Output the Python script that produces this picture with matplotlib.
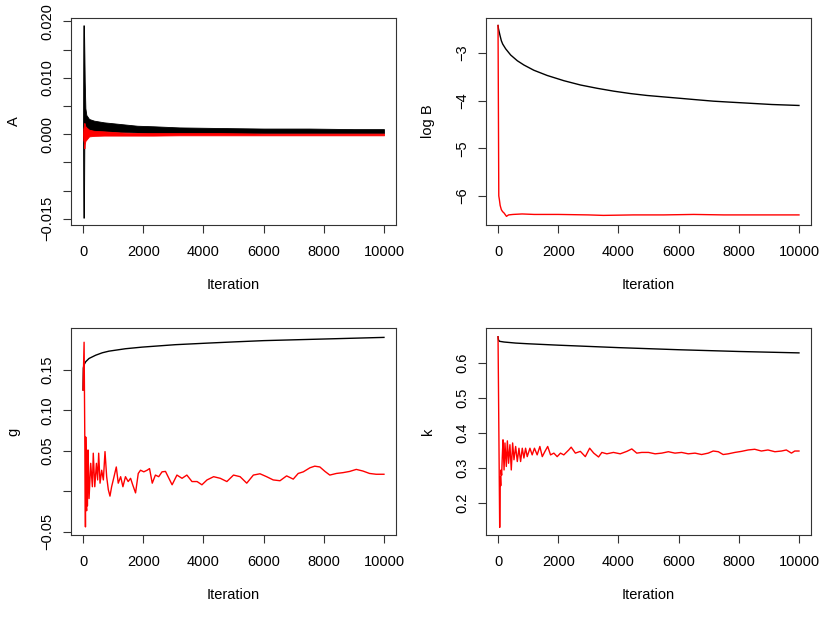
import numpy as np
import matplotlib
matplotlib.use('Agg')
import matplotlib.pyplot as plt

plt.rcParams['font.family'] = ['Liberation Sans', 'DejaVu Sans']

MINUS = '\u2212'

# ---- panel A: dense trace, read as upper / lower envelope ----
a_iter = [0, 10, 30, 45, 56, 78, 110, 200, 365, 700, 1250, 1800, 2350, 3200,
          4500, 6000, 7500, 9000, 10000]
a_black_hi = [0.0, 0.0193, 0.0193, 0.0140, 0.0094, 0.0046, 0.0034, 0.0027, 0.0024,
              0.0021, 0.0018, 0.0015, 0.0014, 0.0012, 0.0011, 0.0010, 0.0010,
              0.0009, 0.0009]
a_black_lo = [0.0, -0.0148, -0.0148, 0.0000, 0.0004, 0.0006, 0.0007, 0.0007, 0.0006,
              0.0005, 0.0004, 0.0003, 0.0002, 0.0002, 0.0002, 0.0002, 0.0002,
              0.0002, 0.0002]
a_red_hi = [0.0, 0.0010, 0.0015, 0.0020, 0.0018, 0.0014, 0.0012, 0.0008, 0.0006,
            0.0005, 0.0003, 0.0002, 0.0002, 0.0002, 0.0002, 0.0001, 0.0001,
            0.0001, 0.0001]
a_red_lo = [0.0, -0.0010, -0.0015, -0.0025, -0.0018, -0.0012, -0.0010, -0.0004,
            -0.0003, -0.00025, -0.00025, -0.00025, -0.00025, -0.0002, -0.0002,
            -0.0002, -0.0002, -0.0002, -0.0002]

# ---- panel log B ----
b_black_iter = [0, 15, 33, 66, 110, 155, 254, 420, 640, 860, 1190, 1635, 2190,
                2740, 3300, 3850, 4400, 4950, 5500, 6055, 6600, 7160, 7700, 8265,
                9100, 10000]
b_black = [-2.42, -2.49, -2.54, -2.63, -2.74, -2.81, -2.91, -3.04, -3.16, -3.25,
           -3.36, -3.47, -3.58, -3.67, -3.74, -3.80, -3.85, -3.89, -3.92, -3.95,
           -3.98, -4.01, -4.03, -4.05, -4.08, -4.10]
b_red_iter = [0, 25, 45, 70, 110, 150, 200, 280, 350, 500, 800, 1200, 2000, 3000,
              3500, 4500, 5500, 6500, 7500, 8500, 10000]
b_red = [-2.42, -6.00, -6.08, -6.20, -6.29, -6.33, -6.36, -6.43, -6.40, -6.39,
         -6.38, -6.39, -6.39, -6.40, -6.41, -6.40, -6.40, -6.39, -6.40, -6.40, -6.40]

# ---- panel g ----
g_black_iter = [0, 10, 30, 90, 200, 420, 640, 860, 1410, 1965, 3070, 4170, 5055,
                6000, 7000, 8000, 9000, 10000]
g_black = [0.125, 0.152, 0.156, 0.160, 0.164, 0.168, 0.171, 0.173, 0.176, 0.178,
           0.181, 0.183, 0.1845, 0.186, 0.187, 0.188, 0.189, 0.190]
g_red_iter = [0, 35, 80, 90, 100, 110, 120, 130, 145, 165, 180, 200, 255, 310, 340,
              390, 445, 485, 520, 565, 620, 675, 730, 785, 840, 895, 950, 1030,
              1105, 1170, 1250, 1325, 1410, 1500, 1580, 1650, 1745, 1835, 1910,
              2020, 2130, 2210, 2300, 2405, 2515, 2625, 2740, 2960, 3120, 3290,
              3450, 3620, 3790, 3950, 4120, 4340, 4560, 4780, 5000, 5220, 5440,
              5660, 5880, 6100, 6320, 6545, 6765, 6985, 7150, 7320, 7540, 7700,
              7870, 8040, 8200, 8420, 8640, 8860, 9080, 9300, 9520, 9740, 10000]
g_red = [0.125, 0.184, -0.044, 0.067, 0.040, -0.020, -0.024, 0.030, -0.018, 0.051,
         0.030, -0.009, 0.0345, 0.0056, 0.047, 0.0056, 0.0345, 0.014, 0.047, 0.010,
         0.026, 0.014, 0.049, 0.018, 0.002, -0.006, 0.0056, 0.018, 0.030, 0.010,
         0.018, 0.0056, 0.018, 0.012, 0.016, 0.008, -0.002, 0.022, 0.026,
         0.024, 0.026, 0.028, 0.010, 0.020, 0.018, 0.024, 0.0245, 0.008, 0.020,
         0.016, 0.020, 0.012, 0.012, 0.008, 0.014, 0.018, 0.016, 0.012, 0.020,
         0.018, 0.010, 0.020, 0.0216, 0.018, 0.014, 0.013, 0.019, 0.015, 0.022,
         0.024, 0.029, 0.031, 0.030, 0.0245, 0.020, 0.022, 0.023, 0.0245, 0.027,
         0.025, 0.022, 0.021, 0.021]

# ---- panel k ----
k_black_iter = [0, 10, 20, 50, 200, 585, 1000, 2000, 4000, 6000, 8000, 10000]
k_black = [0.675, 0.668, 0.665, 0.662, 0.660, 0.657, 0.655, 0.651, 0.644, 0.638,
           0.633, 0.629]
k_red_iter = [0, 55, 75, 90, 100, 120, 140, 165, 200, 230, 275, 310, 350, 395, 440,
              485, 530, 585, 640, 695, 750, 805, 860, 915, 970, 1060, 1135, 1210,
              1300, 1390, 1470, 1560, 1650, 1745, 1855, 1965, 2075, 2185, 2350,
              2430, 2570, 2735, 2900, 3045, 3180, 3340, 3450, 3615, 3835, 4060,
              4280, 4445, 4610, 4775, 5000, 5220, 5440, 5660, 5880, 6100, 6320,
              6545, 6765, 6985, 7150, 7320, 7480, 7650, 7870, 8090, 8310, 8530,
              8750, 8970, 9200, 9420, 9580, 9750, 9860, 10000]
k_red = [0.675, 0.131, 0.276, 0.250, 0.295, 0.280, 0.330, 0.381, 0.295, 0.372,
         0.305, 0.378, 0.314, 0.367, 0.295, 0.372, 0.324, 0.362, 0.319, 0.357,
         0.319, 0.357, 0.329, 0.357, 0.333, 0.357, 0.338, 0.357, 0.338, 0.362,
         0.333, 0.348, 0.362, 0.338, 0.343, 0.333, 0.343, 0.338, 0.352, 0.360,
         0.343, 0.348, 0.333, 0.357, 0.343, 0.332, 0.345, 0.341, 0.345, 0.341,
         0.348, 0.355, 0.343, 0.345, 0.345, 0.341, 0.343, 0.347, 0.343, 0.345,
         0.341, 0.343, 0.339, 0.343, 0.349, 0.347, 0.339, 0.341, 0.345, 0.348,
         0.352, 0.354, 0.349, 0.352, 0.347, 0.349, 0.352, 0.343, 0.349, 0.349]

x_ticks = [0, 2000, 4000, 6000, 8000, 10000]


def fmt(v, nd):
    s = ('%.' + str(nd) + 'f') % abs(v)
    return (MINUS + s) if v < 0 else s


def style_axes(ax, ylabel, yticks, ylabels, ylim):
    ax.set_xlim(-400, 10400)
    ax.set_ylim(*ylim)
    ax.set_xticks(x_ticks)
    ax.set_xticklabels([str(t) for t in x_ticks])
    ax.set_yticks(yticks)
    ax.set_yticklabels(ylabels, rotation=90, va='center')
    ax.tick_params(direction='out', length=5.8, width=0.8, labelsize=10.5,
                   color='#333333')
    ax.tick_params(axis='x', pad=8.5)
    ax.tick_params(axis='y', pad=6.5)
    for s in ax.spines.values():
        s.set_linewidth(0.8)
        s.set_color('#333333')
    ax.set_xlabel('Iteration', fontsize=10.5, labelpad=13.5)
    ax.set_ylabel(ylabel, fontsize=10.5, labelpad=14)


fig = plt.figure(figsize=(8.3, 6.23), dpi=100)
W, H = 830.0, 623.0


def add_panel(x0, y0, x1, y1):
    return fig.add_axes([x0 / W, 1 - y1 / H, (x1 - x0) / W, (y1 - y0) / H])


axA = add_panel(71, 18, 396, 225)
axB = add_panel(486, 18, 811, 225)
axG = add_panel(71, 328, 396, 535)
axK = add_panel(486, 328, 811, 535)

# A
axA.fill_between(a_iter, a_black_lo, a_black_hi, color='black', lw=0.6)
axA.fill_between(a_iter, a_red_lo, a_red_hi, color='red', lw=0.6)
a_ticks = [-0.015, -0.010, -0.005, 0.0, 0.005, 0.010, 0.015, 0.020]
a_labels = [fmt(-0.015, 3), '', '', '0.000', '', '0.010', '', '0.020']
style_axes(axA, 'A', a_ticks, a_labels, (-0.0161, 0.0206))

# log B
axB.plot(b_black_iter, b_black, color='black', lw=1.0)
axB.plot(b_red_iter, b_red, color='red', lw=1.0)
b_ticks = [-6, -5, -4, -3]
style_axes(axB, 'log B', b_ticks, [fmt(t, 0) for t in b_ticks], (-6.612, -2.262))

# g
axG.plot(g_black_iter, g_black, color='black', lw=1.0)
axG.plot(g_red_iter, g_red, color='red', lw=1.0)
g_ticks = [-0.05, 0.0, 0.05, 0.10, 0.15]
g_labels = [fmt(-0.05, 2), '', '0.05', '0.10', '0.15']
style_axes(axG, 'g', g_ticks, g_labels, (-0.054, 0.2016))

# k
axK.plot(k_black_iter, k_black, color='black', lw=1.0)
axK.plot(k_red_iter, k_red, color='red', lw=1.0)
k_ticks = [0.2, 0.3, 0.4, 0.5, 0.6]
style_axes(axK, 'k', k_ticks, [fmt(t, 1) for t in k_ticks], (0.1094, 0.70))

fig.savefig('out.png', dpi=100)
